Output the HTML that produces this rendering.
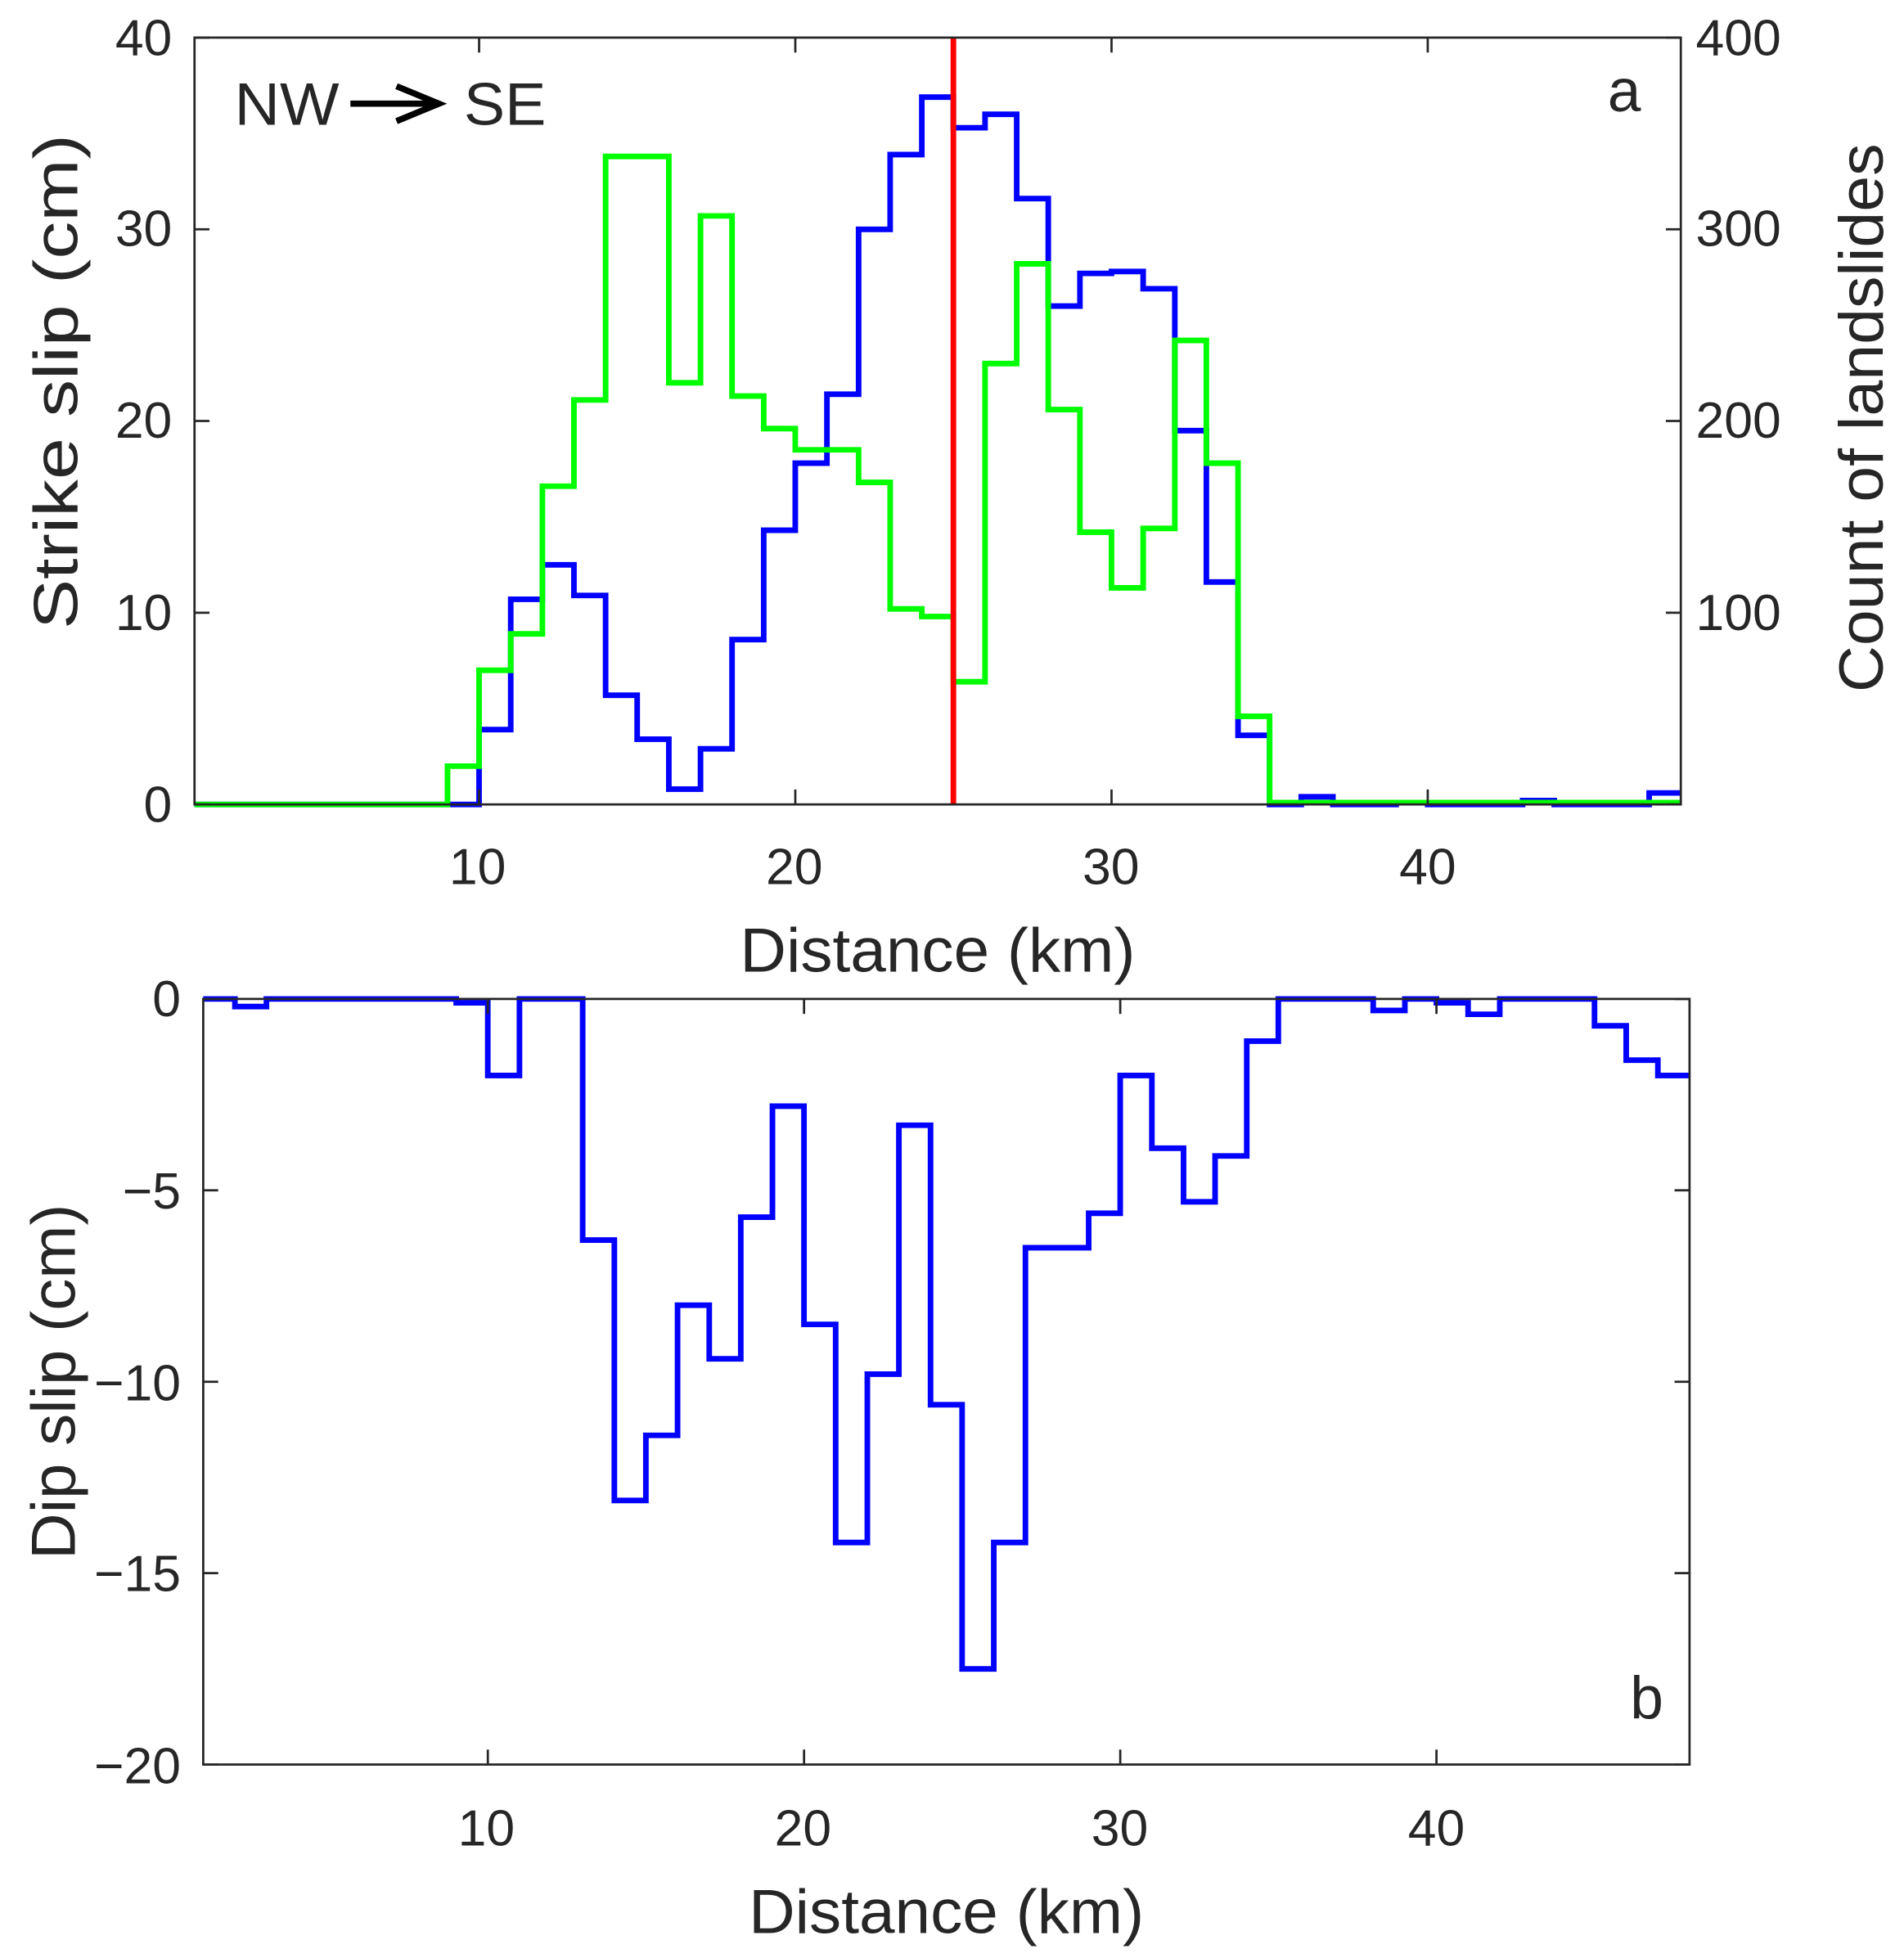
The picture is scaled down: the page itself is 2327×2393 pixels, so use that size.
<!DOCTYPE html>
<html><head><meta charset="utf-8"><style>
html,body{margin:0;padding:0;background:#fff}
svg{display:block}
text{font-family:"Liberation Sans",Arial,sans-serif;fill:#262626}
</style></head><body>
<svg id="s" width="2327" height="2393" viewBox="0 0 1527 1570" xmlns="http://www.w3.org/2000/svg">
<rect width="1527" height="1570" fill="#fff"/>
<g id="top"></g>
<g id="bot"></g>
<g font-size="41" text-anchor="end">
<text x="138" y="659">0</text><text x="138" y="505">10</text><text x="138" y="351">20</text><text x="138" y="197">30</text><text x="138" y="44">40</text>
</g>
<g font-size="41" text-anchor="start">
<text x="1360" y="505">100</text><text x="1360" y="351">200</text><text x="1360" y="197">300</text><text x="1360" y="44">400</text>
</g>
<g font-size="41" text-anchor="middle">
<text x="383" y="709">10</text><text x="637" y="709">20</text><text x="891" y="709">30</text><text x="1145" y="709">40</text>
<text x="390" y="1480">10</text><text x="644" y="1480">20</text><text x="898" y="1480">30</text><text x="1152" y="1480">40</text>
</g>
<text x="752" y="779" font-size="50" text-anchor="middle" textLength="317" lengthAdjust="spacingAndGlyphs">Distance (km)</text>
<text x="759" y="1550" font-size="50" text-anchor="middle" textLength="317" lengthAdjust="spacingAndGlyphs">Distance (km)</text>
<text transform="translate(62,306) rotate(-90)" font-size="50" text-anchor="middle" textLength="397" lengthAdjust="spacingAndGlyphs">Strike slip (cm)</text>
<text transform="translate(1510,335) rotate(-90)" font-size="50" text-anchor="middle" textLength="440" lengthAdjust="spacingAndGlyphs">Count of landslides</text>
<text transform="translate(60,1108) rotate(-90)" font-size="50" text-anchor="middle" textLength="285" lengthAdjust="spacingAndGlyphs">Dip slip (cm)</text>
<g font-size="41" text-anchor="end">
<text x="145" y="815">0</text><text x="145" y="969">−5</text><text x="145" y="1123">−10</text><text x="145" y="1276">−15</text><text x="145" y="1430">−20</text>
</g>
<text x="1316" y="89" font-size="48" text-anchor="end">a</text>
<text x="1334" y="1378" font-size="48" text-anchor="end">b</text>
<text x="188" y="100" font-size="48" fill="#111" textLength="84" lengthAdjust="spacingAndGlyphs">NW</text>
<text x="372" y="100" font-size="48" fill="#111" textLength="66" lengthAdjust="spacingAndGlyphs">SE</text>
<line x1="281" y1="83" x2="352" y2="83" stroke="#000" stroke-width="5"/>
<polyline points="318,69 352,83 318,97" fill="none" stroke="#000" stroke-width="5"/>
</svg>
<script>
var NS="http://www.w3.org/2000/svg";
function el(p,t,a){var e=document.createElementNS(NS,t);for(var k in a)e.setAttribute(k,a[k]);p.appendChild(e);return e;}
function step(vals,x0,pk,y0,py){
  var d="";
  for(var i=0;i<vals.length;i++){
    var xa=x0+i*pk, xb=x0+(i+1)*pk, y=y0-vals[i]*py;
    d+=(i==0?"M":"L")+xa.toFixed(1)+","+y.toFixed(1)+"L"+xb.toFixed(1)+","+y.toFixed(1);
  }
  return d;
}
var pk=25.36;
var T=document.getElementById("top");
var blue=[0,0,0,0,0,0,0,0,0,3.9,10.7,12.5,10.9,5.7,3.4,0.8,2.9,8.6,14.3,17.8,21.4,30.0,33.9,36.9,35.3,36.0,31.6,26.0,27.7,27.8,26.9,19.5,11.6,3.6,0,0.4,0,0,0.1,0,0,0,0.2,0,0,0,0.6];
var green=[0,0,0,0,0,0,0,0,2.0,7.0,8.9,16.6,21.1,33.8,33.8,22.0,30.7,21.3,19.6,18.5,18.5,16.8,10.2,9.8,6.4,23.0,28.2,20.6,14.2,11.3,14.4,24.2,17.8,4.6,0.1,0.1,0.1,0.1,0.1,0.1,0.1,0.1,0.1,0.1,0.1,0.1,0.1];
el(T,"path",{d:step(blue,156,pk,645,15.375),fill:"none",stroke:"#0000ff","stroke-width":4.5});
el(T,"path",{d:step(green,156,pk,645,15.375),fill:"none",stroke:"#00ff00","stroke-width":4.5});
el(T,"line",{x1:764.6,y1:30,x2:764.6,y2:645,stroke:"#ff0000","stroke-width":4.5});
el(T,"rect",{x:156,y:30,width:1192,height:615,fill:"none",stroke:"#262626","stroke-width":1.8});
[10,20,30,40].forEach(function(v){var x=156+(v-1)*pk;
 el(T,"line",{x1:x,y1:645,x2:x,y2:633,stroke:"#262626","stroke-width":1.8});
 el(T,"line",{x1:x,y1:30,x2:x,y2:42,stroke:"#262626","stroke-width":1.8});});
[0,10,20,30,40].forEach(function(v){var y=645-v*15.375;
 el(T,"line",{x1:156,y1:y,x2:168,y2:y,stroke:"#262626","stroke-width":1.8});
 el(T,"line",{x1:1348,y1:y,x2:1336,y2:y,stroke:"#262626","stroke-width":1.8});});
var B=document.getElementById("bot");
var dip=[0,-0.2,0,0,0,0,0,0,-0.1,-2.0,0,0,-6.3,-13.1,-11.4,-8.0,-9.4,-5.7,-2.8,-8.5,-14.2,-9.8,-3.3,-10.6,-17.5,-14.2,-6.5,-6.5,-5.6,-2.0,-3.9,-5.3,-4.1,-1.1,0,0,0,-0.3,0,-0.1,-0.4,0,0,0,-0.7,-1.6,-2.0];
var by=30.7;
el(B,"path",{d:step(dip,163,pk,801,by),fill:"none",stroke:"#0000ff","stroke-width":4.5});
el(B,"rect",{x:163,y:801,width:1192,height:614,fill:"none",stroke:"#262626","stroke-width":1.8});
[10,20,30,40].forEach(function(v){var x=163+(v-1)*pk;
 el(B,"line",{x1:x,y1:1415,x2:x,y2:1403,stroke:"#262626","stroke-width":1.8});
 el(B,"line",{x1:x,y1:801,x2:x,y2:813,stroke:"#262626","stroke-width":1.8});});
[0,-5,-10,-15,-20].forEach(function(v){var y=801-v*by;
 el(B,"line",{x1:163,y1:y,x2:175,y2:y,stroke:"#262626","stroke-width":1.8});
 el(B,"line",{x1:1355,y1:y,x2:1343,y2:y,stroke:"#262626","stroke-width":1.8});});
</script>
</body></html>
